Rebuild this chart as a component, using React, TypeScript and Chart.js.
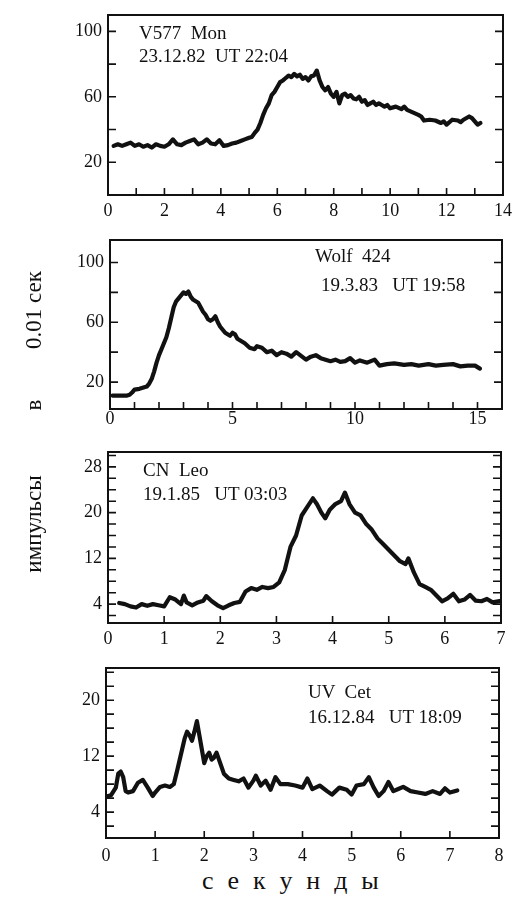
import React, { useEffect, useRef } from 'react';
import { Chart, registerables } from 'chart.js';

Chart.register(...registerables);

// ---------- Panel 1: V577 Mon ----------
const t1 = [0.2,0.35,0.5,0.65,0.8,0.95,1.1,1.25,1.4,1.55,1.7,1.85,2.0,2.15,2.3,2.45,2.6,2.75,2.9,3.05,3.2,3.35,3.5,3.65,3.8,3.95,4.1,4.25,4.4,4.55,4.7,4.85,
  5.0,5.1,5.2,5.3,5.4,5.5,5.6,5.7,5.8,5.9,6.0,6.1,6.2,6.3,6.4,6.5,6.6,6.7,6.8,6.9,7.0,7.1,7.2,7.3,7.4,7.5,7.6,7.7,7.8,7.9,8.0,8.1,8.2,8.3,8.4,8.5,8.6,8.7,8.8,8.9,9.0,9.1,9.2,9.3,9.4,9.5,9.6,9.7,9.8,9.9,10.0,
  10.2,10.4,10.5,10.6,10.8,11.0,11.1,11.2,11.4,11.6,11.8,11.9,12.0,12.2,12.4,12.5,12.6,12.8,12.9,13.0,13.1,13.2];
const v1 = [30,31,30,31,32,30,31,29.5,30.5,29,31,30,29.5,31,34,31,30.5,32,33,34,31,32,34,31.5,31,33.5,30,30.5,31.5,32,33,34,
  35,35.5,38,40,44,49,53,56,61,63,66,69,70,71.5,73,72,74,72.5,73.5,71,72,70,72.5,73,76,70,66,64,66,62,60,63,56,61,62,60,61,59,58.5,60,57,58,55,56,57,55,56,55,54,55,53,
  54,52.5,54,52,50.5,49,48,45.5,46,45.5,44,45,43,46,45.5,44.5,46,48,47,45,43,44];
const xTicks1 = [0,1,2,3,4,5,6,7,8,9,10,11,12,13,14];
const xLabels1 = [0,2,4,6,8,10,12,14];
const yTicks1 = [20,40,60,80,100];
const yLabels1 = [20,60,100];

// ---------- Panel 2: Wolf 424 ----------
const t2 = [0.1,0.3,0.5,0.7,0.8,0.9,1.0,1.2,1.4,
  1.5,1.6,1.7,1.8,1.9,2.0,2.1,2.2,2.3,2.4,2.5,2.6,2.7,2.8,2.9,3.0,3.1,3.2,3.3,3.4,3.5,3.6,3.7,3.8,3.9,4.0,4.1,4.2,4.3,4.4,4.5,4.6,4.7,4.8,4.9,5.0,5.1,5.2,5.3,
  5.5,5.7,5.9,6.0,6.2,6.4,6.6,6.8,7.0,7.2,7.4,7.6,7.8,8.0,8.2,8.4,8.6,8.8,9.0,9.2,9.4,9.6,9.8,10.0,
  10.2,10.5,10.8,11.0,11.3,11.6,12.0,12.3,12.6,13.0,13.3,13.6,14.0,14.3,14.6,14.9,15.1];
const v2 = [11,11,11,11,11.5,13,15,15.5,16.5,
  17,19,22,27,33,38,42,46,50,56,63,70,74,76,78,80,79,80.5,77,75,74,73,70,67,65,62,61,62,64,60,57,55,53,52,51,53,52,49,48,
  46,43,42,44,43,40,41,38,40,39,37,40,37.5,35,37,38,36,35,34,35,33.5,34,36,33,
  34.5,33,35,31,32,32.5,31.5,32,31,32,31,31.5,32,30.5,31,31,29];
const xTicks2 = [0,1,2,3,4,5,6,7,8,9,10,11,12,13,14,15,16];
const xLabels2 = [0,5,10,15];
const yTicks2 = [20,40,60,80,100];
const yLabels2 = [20,60,100];

// ---------- Panel 3: CN Leo ----------
const t3 = [0.2,0.3,0.4,0.5,0.6,0.7,0.8,0.9,1.0,1.1,1.2,1.3,1.35,1.4,1.5,1.6,1.7,1.75,
  1.85,1.95,2.05,2.15,2.25,2.35,2.45,2.55,2.65,2.75,2.85,2.95,3.05,3.15,3.25,3.35,3.45,3.55,3.65,
  3.72,3.8,3.87,3.95,4.05,4.15,4.22,4.3,4.4,4.5,4.6,4.7,4.8,4.9,5.0,5.1,5.2,5.3,5.35,
  5.45,5.55,5.65,5.75,5.85,5.95,6.05,6.15,6.25,6.35,6.45,6.55,6.65,6.75,6.85,7.0];
const v3 = [4.2,4,3.6,3.4,4,3.7,4,3.8,3.6,5.2,4.8,4,5.5,4.3,3.8,4.3,4.6,5.4,
  4.5,3.8,3.3,3.8,4.2,4.4,6.2,6.8,6.5,7,6.8,7,7.8,10,14,16,19.5,21,22.5,
  21.5,20,19,20.5,21.5,22,23.5,21.5,20,19.5,18,17,15.5,14.5,13.5,12.5,11.5,11,12,
  9.5,7.5,7,6.5,5.5,4.5,5,5.8,4.5,4.8,5.6,4.6,4.5,4.9,4.3,4.6];
const xTicks3 = [0,1,2,3,4,5,6,7];
const xLabels3 = [0,1,2,3,4,5,6,7];
const yTicks3 = [2,4,6,8,10,12,14,16,18,20,22,24,26,28,30];
const yLabels3 = [4,12,20,28];

// ---------- Panel 4: UV Cet ----------
const t4 = [0.0,0.1,0.2,0.25,0.3,0.35,0.4,0.45,0.55,0.65,0.75,0.85,0.95,1.0,1.1,1.2,1.3,1.38,1.45,1.55,
  1.6,1.65,1.7,1.75,1.8,1.85,1.9,1.95,2.0,2.05,2.1,2.15,2.2,2.25,2.3,
  2.4,2.5,2.6,2.7,2.8,2.9,3.0,3.05,3.15,3.25,3.35,3.45,3.55,
  3.7,3.85,4.0,4.1,4.2,4.35,4.5,4.6,4.75,4.9,5.0,5.1,
  5.25,5.35,5.45,5.55,5.65,5.75,5.85,5.95,6.05,6.2,6.35,6.5,6.65,6.8,6.9,7.0,7.15];
const v4 = [6.2,6.4,7.5,9.5,9.8,9,7,6.8,7,8.2,8.6,7.5,6.3,6.8,7.6,7.8,7.6,8,10,13,
  14.5,15.5,15,14.2,15.5,17,15,13,11,12,12.5,11.5,11.8,12.5,11.5,
  9.5,8.8,8.6,8.4,8.8,7.5,8.5,9.2,7.8,8.5,7.2,9,8,
  8,7.8,7.5,8.8,7.3,7.8,7,6.5,7.5,7.2,6.5,7.8,
  8,9,7.5,6.3,7,8.3,7,7.3,7.6,7,6.8,6.6,7,6.6,7.4,6.8,7.1];
const xTicks4 = [0,1,2,3,4,5,6,7,8];
const xLabels4 = [0,1,2,3,4,5,6,7,8];
const yTicks4 = [2,4,6,8,10,12,14,16,18,20,22,24];
const yLabels4 = [4,12,20];

const FONT = '"Liberation Serif", "Times New Roman", serif';
const INK = '#111111';

const framePlugin = {
  id: 'frame',
  afterDatasetsDraw(chart: any) {
    const { ctx, chartArea: a, scales } = chart;
    ctx.save();
    ctx.strokeStyle = INK;
    ctx.lineWidth = 2;
    ctx.strokeRect(a.left, a.top, a.right - a.left, a.bottom - a.top);
    ctx.lineWidth = 1.6;
    ctx.beginPath();
    for (const t of scales.y.ticks) {
      const p = scales.y.getPixelForValue(t.value);
      if (p < a.top + 1 || p > a.bottom - 1) continue;
      ctx.moveTo(a.left, p); ctx.lineTo(a.left + 8, p);
      ctx.moveTo(a.right, p); ctx.lineTo(a.right - 8, p);
    }
    for (const t of scales.x.ticks) {
      const p = scales.x.getPixelForValue(t.value);
      if (p <= a.left + 1 || p >= a.right - 1) continue;
      ctx.moveTo(p, a.bottom); ctx.lineTo(p, a.bottom - 7);
    }
    ctx.stroke();
    ctx.restore();
  },
};

type Panel = {
  t: number[]; v: number[];
  xMin: number; xMax: number; yMin: number; yMax: number;
  xTicks: number[]; xLabels: number[]; yTicks: number[]; yLabels: number[];
  top: number; height: number; L: number; R: number; T: number; B: number; xPad: number;
};

const panels: Panel[] = [
  { t: t1, v: v1, xMin: 0, xMax: 14, yMin: 0, yMax: 110, xTicks: xTicks1, xLabels: xLabels1, yTicks: yTicks1, yLabels: yLabels1,
    top: 0, height: 225, L: 108, R: 503, T: 10, B: 195, xPad: 7 },
  { t: t2, v: v2, xMin: 0, xMax: 16, yMin: 2, yMax: 115, xTicks: xTicks2, xLabels: xLabels2, yTicks: yTicks2, yLabels: yLabels2,
    top: 225, height: 210, L: 110, R: 502, T: 10, B: 184, xPad: 1 },
  { t: t3, v: v3, xMin: 0, xMax: 7, yMin: 0.7, yMax: 30.6, xTicks: xTicks3, xLabels: xLabels3, yTicks: yTicks3, yLabels: yLabels3,
    top: 435, height: 210, L: 108, R: 501, T: 17, B: 188, xPad: 7 },
  { t: t4, v: v4, xMin: 0, xMax: 8, yMin: 0.3, yMax: 24.6, xTicks: xTicks4, xLabels: xLabels4, yTicks: yTicks4, yLabels: yLabels4,
    top: 650, height: 215, L: 106, R: 499, T: 18, B: 188, xPad: 9 },
];

function PanelChart({ p }: { p: Panel }) {
  const ref = useRef<HTMLCanvasElement>(null);
  useEffect(() => {
    if (!ref.current) return;
    const tickFont = { family: FONT, size: 18, lineHeight: 1 };
    const chart = new Chart(ref.current, {
      type: 'line',
      data: {
        datasets: [{
          data: p.t.map((x, i) => ({ x, y: p.v[i] })),
          borderColor: INK,
          borderWidth: 4.2,
          pointRadius: 0,
          tension: 0,
          fill: false,
          borderJoinStyle: 'round',
          borderCapStyle: 'round',
        }],
      },
      options: {
        animation: false,
        responsive: false,
        maintainAspectRatio: false,
        layout: { padding: { top: p.T, right: 528 - p.R, left: 0, bottom: 0 } },
        plugins: { legend: { display: false }, tooltip: { enabled: false } },
        scales: {
          x: {
            type: 'linear', min: p.xMin, max: p.xMax,
            grid: { display: false, drawTicks: false },
            border: { display: false },
            afterBuildTicks: (s: any) => { s.ticks = p.xTicks.map((value) => ({ value })); },
            afterFit: (s: any) => { s.height = p.height - p.B; },
            ticks: {
              autoSkip: false, maxRotation: 0, minRotation: 0, padding: p.xPad, color: INK, font: tickFont,
              callback: (val: any) => (p.xLabels.includes(Number(val)) ? String(val) : ''),
            },
          },
          y: {
            type: 'linear', min: p.yMin, max: p.yMax,
            grid: { display: false, drawTicks: false },
            border: { display: false },
            afterBuildTicks: (s: any) => { s.ticks = p.yTicks.map((value) => ({ value })); },
            afterFit: (s: any) => { s.width = p.L; },
            ticks: {
              autoSkip: false, padding: 6, color: INK, font: tickFont,
              callback: (val: any) => (p.yLabels.includes(Number(val)) ? String(val) : ''),
            },
          },
        },
      } as any,
      plugins: [framePlugin],
    });
    return () => chart.destroy();
  }, [p]);
  return (
    <canvas
      ref={ref}
      width={528}
      height={p.height}
      style={{ position: 'absolute', left: 0, top: p.top, width: 528, height: p.height, display: 'block' }}
    />
  );
}

const noteStyle: React.CSSProperties = {
  position: 'absolute', fontFamily: FONT, fontSize: 19, lineHeight: '19px', color: INK, whiteSpace: 'pre',
};

const vStyle = (cx: number, cy: number): React.CSSProperties => ({
  position: 'absolute', left: cx, top: cy, transform: 'translate(-50%, -50%) rotate(-90deg)',
  fontFamily: FONT, fontSize: 23, lineHeight: '23px', color: INK, whiteSpace: 'pre',
});

export default function App() {
  return (
    <div style={{ position: 'absolute', left: 0, top: 0, width: 528, height: 898, background: '#fff', overflow: 'hidden' }}>
      {panels.map((p, i) => <PanelChart key={i} p={p} />)}
      <div style={{ ...noteStyle, left: 139, top: 23 }}>{'V577  Mon'}</div>
      <div style={{ ...noteStyle, left: 139, top: 46 }}>{'23.12.82  UT 22:04'}</div>
      <div style={{ ...noteStyle, left: 315, top: 246 }}>{'Wolf  424'}</div>
      <div style={{ ...noteStyle, left: 321, top: 275 }}>{'19.3.83   UT 19:58'}</div>
      <div style={{ ...noteStyle, left: 143, top: 460 }}>{'CN  Leo'}</div>
      <div style={{ ...noteStyle, left: 143, top: 484 }}>{'19.1.85   UT 03:03'}</div>
      <div style={{ ...noteStyle, left: 308, top: 682 }}>{'UV  Cet'}</div>
      <div style={{ ...noteStyle, left: 308, top: 707 }}>{'16.12.84   UT 18:09'}</div>
      <div style={vStyle(33, 310)}>{'0.01 сек'}</div>
      <div style={vStyle(33, 405)}>{'в'}</div>
      <div style={vStyle(33, 524)}>{'импульсы'}</div>
      <div style={{ position: 'absolute', left: 202, top: 868, fontFamily: FONT, fontSize: 26, lineHeight: '26px', color: INK, whiteSpace: 'pre', letterSpacing: '3.7px' }}>
        {'с е к у н д ы'}
      </div>
    </div>
  );
}
